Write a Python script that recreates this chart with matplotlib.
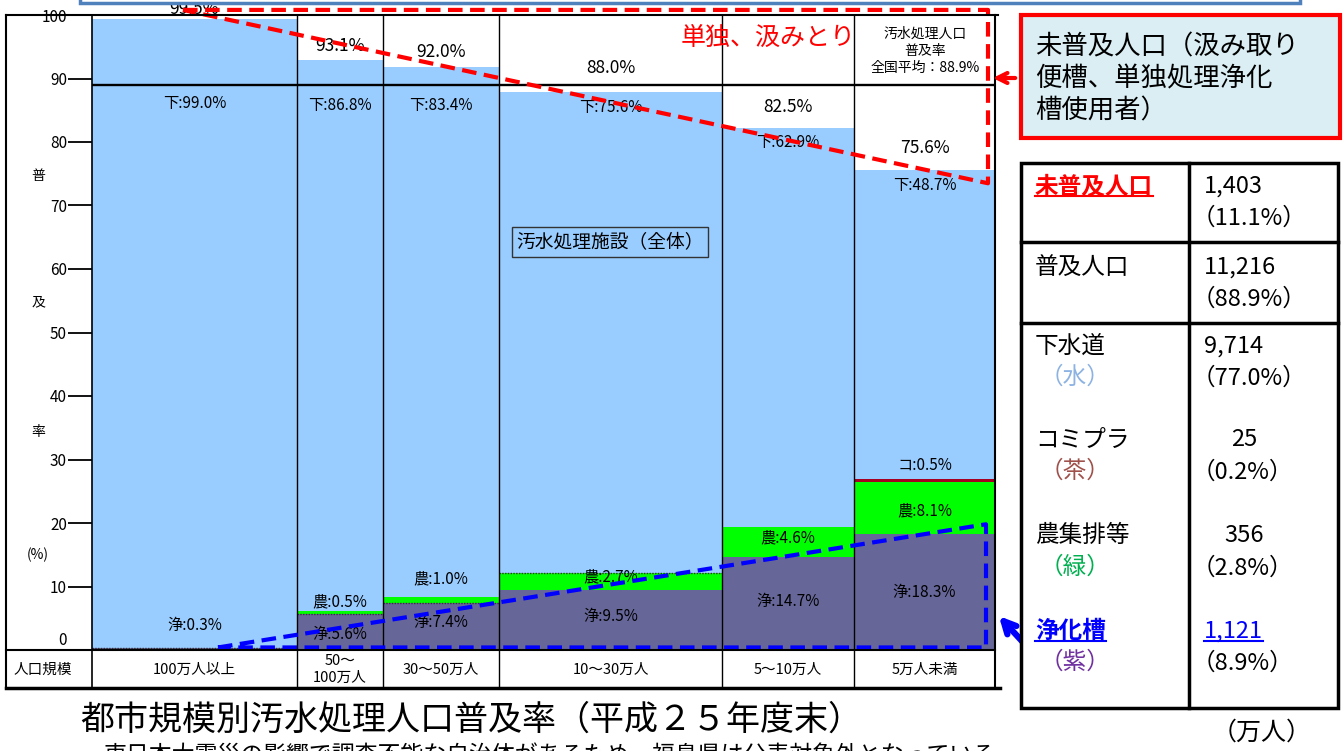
import matplotlib
matplotlib.use("Agg")
import matplotlib.pyplot as plt
import numpy as np
from matplotlib.patches import Rectangle, FancyArrowPatch
from matplotlib.lines import Line2D

plt.rcParams['font.family'] = ['Noto Sans CJK JP', 'DejaVu Sans']

# ---- data ----
sizes = ['100万人以上', '50～\n100万人', '30～50万人', '10～30万人', '5～10万人', '5万人未満']
pop = [2864, 1202, 1621, 3116, 1844, 1970]          # 万人 (column widths, estimated)
sewer = [99.0, 86.8, 83.4, 75.6, 62.9, 48.7]         # 下水道
comm = [0.0, 0.0, 0.0, 0.0, 0.0, 0.5]                # コミプラ
rural = [0.0, 0.5, 1.0, 2.7, 4.6, 8.1]               # 農集排等
septic = [0.3, 5.6, 7.4, 9.5, 14.7, 18.3]            # 浄化槽
total = [99.5, 93.1, 92.0, 88.0, 82.5, 75.6]         # 普及率
national = 88.9

tbl_names = ['未普及人口', '普及人口', '下水道', 'コミプラ', '農集排等', '浄化槽']
tbl_tags = ['', '', '（水）', '（茶）', '（緑）', '（紫）']
tbl_pop = [1403, 11216, 9714, 25, 356, 1121]
tbl_pct = [11.1, 88.9, 77.0, 0.2, 2.8, 8.9]

# ---- label layout (data y of each label) ----
y_sewer_lbl = [86.1, 85.8, 85.8, 85.4, 80.0, 73.2]
y_total_lbl = [101.0, 95.1, 94.1, 91.6, 85.5, 79.1]
y_septic_lbl = [3.8, 2.4, 4.4, 5.2, 7.6, 9.1]
y_rural_lbl = [None, 7.6, 11.2, 11.5, 17.6, 21.9]
y_comm_lbl = [None, None, None, None, None, 29.1]

C_SEWER = '#99CCFF'
C_SEPTIC = '#666699'
C_RURAL = '#00FF00'
C_COMM = '#A50021'

W, H = 1343, 751
fig = plt.figure(figsize=(W / 100, H / 100), dpi=100)


def fx(px):
    return px / W


def fy(py):
    return 1 - py / H


def fig_line(x0, y0, x1, y1, **kw):
    fig.add_artist(Line2D([fx(x0), fx(x1)], [fy(y0), fy(y1)], transform=fig.transFigure, **kw))


def fig_text(x, y, s, **kw):
    return fig.text(fx(x), fy(y), s, **kw)


# main plot area: x 92..995 px, y=0 at 650 px, y=100 at 15 px
ax = fig.add_axes([fx(92), fy(650), 903 / W, 635 / H])
tot_pop = sum(pop)
ax.set_xlim(0, tot_pop)
ax.set_ylim(0, 100)
for s in ax.spines.values():
    s.set_visible(False)
ax.set_xticks([])
ax.set_yticks(range(10, 101, 10))
ax.tick_params(axis='y', length=17, width=1.3, labelsize=11, pad=1)
ax.text(-0.028, 1.5, '0', transform=ax.get_yaxis_transform(), ha='right', va='center', fontsize=11)


def ax_x(px):
    # pixel x -> axes fraction
    return (px - 92) / 903


lefts = np.concatenate([[0], np.cumsum(pop)[:-1]])
centers = lefts + np.array(pop) / 2
sep = np.array(septic)
rur = np.array(rural)
com = np.array(comm)

ax.bar(lefts, septic, width=pop, align='edge', color=C_SEPTIC, linewidth=0, zorder=1)
ax.bar(lefts, rural, bottom=sep, width=pop, align='edge', color=C_RURAL, linewidth=0, zorder=1)
ax.bar(lefts, comm, bottom=sep + rur, width=pop, align='edge', color=C_COMM, linewidth=0, zorder=1)
ax.bar(lefts, sewer, bottom=sep + rur + com, width=pop, align='edge', color=C_SEWER, linewidth=0, zorder=1)

# dotted edges on thin layers
dotted = [(0, 0.0), (0, septic[0]), (1, septic[1]), (2, septic[2]), (3, septic[3] + rural[3])]
for i, yv in dotted:
    ax.hlines(yv, lefts[i], lefts[i] + pop[i], colors='#333333', linestyles=(0, (1, 1)), lw=1, zorder=2)

ax.axhline(national, color='black', lw=1.7, zorder=3)
ax.vlines(lefts[1:], -5.98, 100, colors='black', lw=1, clip_on=False, zorder=3)

for i in range(len(pop)):
    ax.text(centers[i], y_sewer_lbl[i], f'下:{sewer[i]:.1f}%', ha='center', va='center', fontsize=11, zorder=4)
    ax.text(centers[i], y_total_lbl[i], f'{total[i]:.1f}%', ha='center', va='center', fontsize=12.5,
            zorder=4, clip_on=False, bbox=dict(fc='white', ec='none', pad=0.5) if i == 0 else None)
    ax.text(centers[i], y_septic_lbl[i], f'浄:{septic[i]:.1f}%', ha='center', va='center', fontsize=11, zorder=4)
    if y_rural_lbl[i] is not None:
        ax.text(centers[i], y_rural_lbl[i], f'農:{rural[i]:.1f}%', ha='center', va='center', fontsize=11, zorder=4)
    if y_comm_lbl[i] is not None:
        ax.text(centers[i], y_comm_lbl[i], f'コ:{comm[i]:.1f}%', ha='center', va='center', fontsize=11, zorder=4)
    ax.text(centers[i], -3.1, sizes[i], ha='center', va='center', fontsize=10.5, linespacing=1.25,
            clip_on=False, zorder=4)

ax.text(ax_x(610), 64.3, '汚水処理施設（全体）', transform=ax.get_yaxis_transform(), ha='center', va='center',
        fontsize=13.5, zorder=4, bbox=dict(fc=C_SEWER, ec='#333333', lw=1, boxstyle='square,pad=0.25'))

# dashed outlines
ya = ax.get_yaxis_transform()
ax.plot([ax_x(183), ax_x(988), ax_x(988), ax_x(183)], [100.8, 100.8, 73.5, 100.8], transform=ya,
        color='#FF0000', lw=3, ls=(0, (3.5, 1.8)), clip_on=False, zorder=5)
ax.plot([ax_x(218), ax_x(986), ax_x(986), ax_x(218)], [0.4, 19.8, 0.4, 0.4], transform=ya,
        color='#0000FF', lw=3, ls=(0, (3.5, 1.8)), clip_on=False, zorder=5)

# ---- frame of the chart ----
fig_line(6, 15, 998, 15, color='black', lw=1.5)
fig_line(6, 15, 6, 688, color='black', lw=1.5)
fig_line(995, 15, 995, 688, color='black', lw=1.5)
fig_line(92, 15, 92, 688, color='black', lw=1.2)
fig_line(6, 650, 995, 650, color='black', lw=1.5)
fig_line(6, 688, 1000, 688, color='black', lw=2.5)

fig_text(43, 670, '人口規模', ha='center', va='center', fontsize=10.5)
for ch, yy in zip(['普', '及', '率', '(%)'], [176, 302, 432, 555]):
    fig_text(38, yy, ch, ha='center', va='center', fontsize=10)

fig_text(768, 38, '単独、汲みとり', ha='center', va='center', fontsize=18, color='#FF0000')
fig_text(925, 51, '汚水処理人口\n普及率\n全国平均：88.9%', ha='center', va='center', fontsize=10,
         linespacing=1.3)

# top box edge (cut off)
fig.add_artist(Rectangle((fx(80), fy(3)), fx(1300) - fx(80), 0.05, transform=fig.transFigure,
                         fc='white', ec='#4F81BD', lw=2.5, zorder=6))

# red annotation box
fig.add_artist(Rectangle((fx(1021), fy(138)), fx(1340) - fx(1021), fy(15) - fy(138), transform=fig.transFigure,
                         fc='#DAEEF3', ec='#FF0000', lw=3, zorder=6))
fig_text(1035, 79, '未普及人口（汲み取り\n便槽、単独処理浄化\n槽使用者）', ha='left', va='center', fontsize=19,
         linespacing=1.25, zorder=7)

# arrows
fig.add_artist(FancyArrowPatch((fx(1018), fy(78)), (fx(990), fy(78)), transform=fig.transFigure,
                               arrowstyle='->', mutation_scale=18, lw=3, color='#FF0000', zorder=6))
fig.add_artist(FancyArrowPatch((fx(1032), fy(652)), (fx(997), fy(614)), transform=fig.transFigure,
                               arrowstyle='->', mutation_scale=22, lw=4.5, color='#0000FF', zorder=5))

# ---- right table ----
fig.add_artist(Rectangle((fx(1021), fy(708)), fx(1338) - fx(1021), fy(163) - fy(708), transform=fig.transFigure,
                         fc='white', ec='black', lw=2.5, zorder=6))
fig_line(1189, 163, 1189, 708, color='black', lw=2.5, zorder=7)
fig_line(1021, 242, 1338, 242, color='black', lw=2.5, zorder=7)
fig_line(1021, 323, 1338, 323, color='black', lw=2.5, zorder=7)

row_y = [186, 267, 346, 440, 536, 631]
name_colors = ['#FF0000', 'black', 'black', 'black', 'black', '#0000FF']
tag_colors = [None, None, '#8DB3E2', '#A0504A', '#00B050', '#7030A0']
underlined = []
for i in range(len(tbl_names)):
    y0 = row_y[i]
    bold = i in (0, 5)
    t = fig_text(1035, y0, tbl_names[i], ha='left', va='center', fontsize=17, color=name_colors[i],
                 fontweight='bold' if bold else 'normal', zorder=8)
    if bold:
        underlined.append(t)
    if tbl_tags[i]:
        fig_text(1040, y0 + 31, tbl_tags[i], ha='left', va='center', fontsize=17, color=tag_colors[i], zorder=8)
    num = f'{tbl_pop[i]:,}'
    if tbl_pop[i] < 1000:
        t2 = fig_text(1244, y0, num, ha='center', va='center', fontsize=17, zorder=8)
    else:
        t2 = fig_text(1204, y0, num, ha='left', va='center', fontsize=17, zorder=8,
                      color='#0000FF' if i == 5 else 'black')
        if i == 5:
            underlined.append(t2)
    fig_text(1192, y0 + 32, f'（{tbl_pct[i]:.1f}%）', ha='left', va='center', fontsize=17, zorder=8)

fig_text(1262, 733, '（万人）', ha='center', va='center', fontsize=18)

# ---- titles ----
fig_text(80, 720, '都市規模別汚水処理人口普及率（平成２５年度末）', ha='left', va='center', fontsize=24.5)
fig_text(103, 755, '東日本大震災の影響で調査不能な自治体があるため、福島県は公表対象外となっている。',
         ha='left', va='center', fontsize=16.5)

# underlines
fig.canvas.draw()
r = fig.canvas.get_renderer()
for t in underlined:
    bb = t.get_window_extent(r)
    yy = bb.y0 + 2
    fig.add_artist(Line2D([bb.x0 / W, bb.x1 / W], [yy / H, yy / H], transform=fig.transFigure,
                          color=t.get_color(), lw=1.5, zorder=8))

fig.savefig('out.png', dpi=100)
plt.close(fig)
